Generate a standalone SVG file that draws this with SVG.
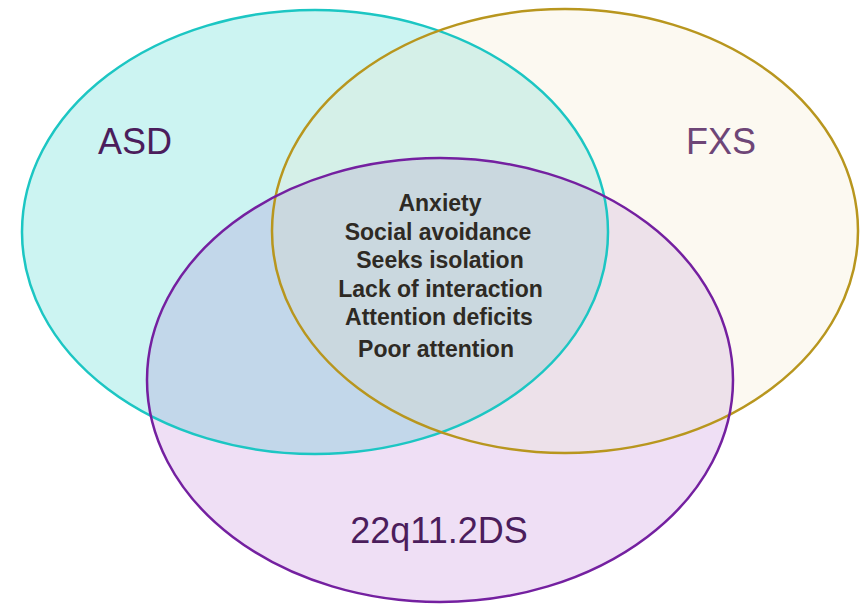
<svg xmlns="http://www.w3.org/2000/svg" width="861" height="604" viewBox="0 0 861 604">
<style>
.lbl{font-family:"Liberation Sans",Arial,sans-serif;font-size:36px}
.ctr{font-family:"Liberation Sans",Arial,sans-serif;font-size:23px;font-weight:bold;fill:#2E2A24;text-anchor:middle}
.ol{fill:none;stroke-width:2.5}
</style>
<defs>
<ellipse id="eA" cx="315" cy="232" rx="293" ry="222"/>
<ellipse id="eF" cx="565" cy="231" rx="293" ry="222"/>
<ellipse id="eQ" cx="440" cy="380" rx="293" ry="222"/>
<clipPath id="cA"><use href="#eA"/></clipPath>
<clipPath id="cF"><use href="#eF"/></clipPath>
</defs>
<rect width="861" height="604" fill="#ffffff"/>
<g id="fills">
<use href="#eA" fill="#CCF4F2"/>
<use href="#eF" fill="#FCF9F1"/>
<use href="#eQ" fill="#EFDFF5"/>
<g clip-path="url(#cA)">
<use href="#eF" fill="#D5F0E8"/>
<use href="#eQ" fill="#C2D7EA"/>
</g>
<g clip-path="url(#cF)">
<use href="#eQ" fill="#EDE1EA"/>
<g clip-path="url(#cA)"><use href="#eQ" fill="#CAD8DF"/></g>
</g>
</g>
<g id="asd">
<use href="#eA" class="ol" stroke="#1CC6C3"/>
<text class="lbl" x="98" y="154" fill="#4B1D5C">ASD</text>
</g>
<g id="fxs">
<use href="#eF" class="ol" stroke="#B8961E"/>
<text class="lbl" x="686" y="154" fill="#6E4677">FXS</text>
</g>
<g id="q22">
<use href="#eQ" class="ol" stroke="#7420A0"/>
<text class="lbl" x="439" y="543" fill="#4B1D5C" text-anchor="middle">22q11.2DS</text>
</g>
<g id="shared">
<text class="ctr" x="440" y="211">Anxiety</text>
<text class="ctr" x="438" y="239.5">Social avoidance</text>
<text class="ctr" x="440" y="268">Seeks isolation</text>
<text class="ctr" x="440.5" y="297">Lack of interaction</text>
<text class="ctr" x="439" y="325">Attention deficits</text>
<text class="ctr" x="436" y="357">Poor attention</text>
</g>
</svg>
